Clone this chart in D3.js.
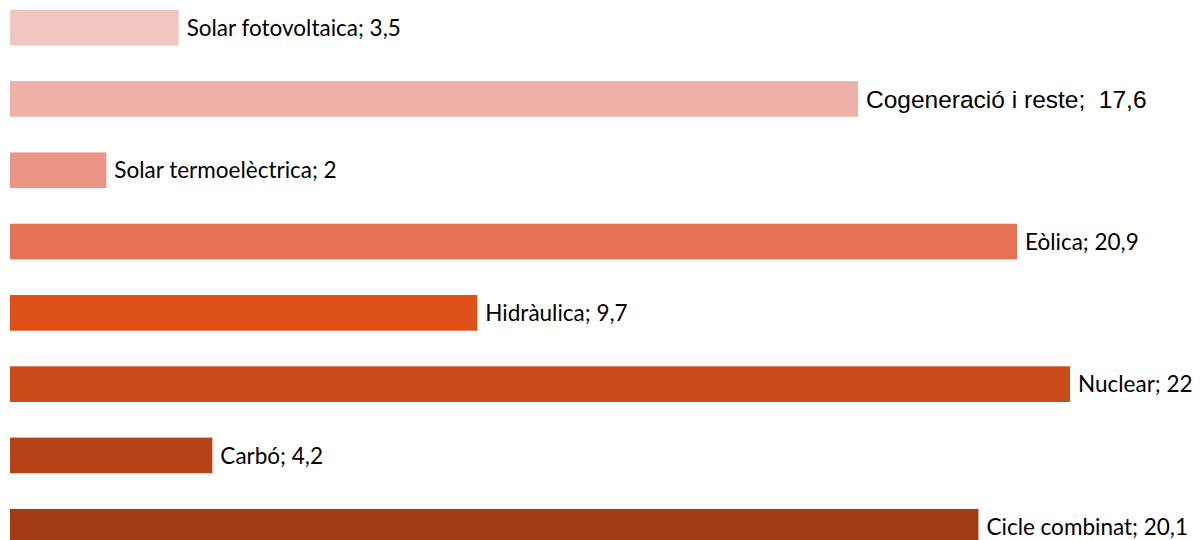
<!DOCTYPE html>
<html>
<head>
<meta charset="utf-8">
<script src="https://cdn.jsdelivr.net/npm/d3@7"></script>
<style>
  body { margin: 0; background: #fff; }
</style>
</head>
<body>
<div id="chart"></div>
<script>
// data
const categories = ["Solar fotovoltaica", "Cogeneració i reste", "Solar termoelèctrica", "Eòlica",
    "Hidràulica", "Nuclear", "Carbó", "Cicle combinat"];
const values = [3.5, 17.6, 2, 20.9, 9.7, 22, 4.2, 20.1];
const valueLabels = ["3,5", "17,6", "2", "20,9", "9,7", "22", "4,2", "20,1"];
const colors = ["#F2C6C0", "#EEB1A8", "#EA9585", "#E57154", "#DD5119", "#CA4B1A", "#B64317", "#A33B15"];

const width = 1200, height = 540;

const svg = d3.select('#chart').append('svg')
    .attr('width', width)
    .attr('height', height);

// scales
const xScale = d3.scaleLinear().domain([0, 22]).range([10, 1070]);
const yScale = d3.scaleBand()
    .domain(categories)
    .range([-8, 562.4])
    .paddingInner(0.5)
    .paddingOuter(0.25);

// bars
svg.selectAll('rect.bar')
    .data(categories)
    .enter().append('rect')
    .attr('class', 'bar')
    .attr('x', xScale(0))
    .attr('y', d => yScale(d))
    .attr('width', (d, i) => xScale(values[i]) - xScale(0))
    .attr('height', yScale.bandwidth())
    .attr('fill', (d, i) => colors[i]);

// labels (the Cogeneració one is in a different font, like the original)
svg.selectAll('text.label')
    .data(categories)
    .enter().append('text')
    .attr('class', 'label')
    .attr('x', (d, i) => xScale(values[i]) + 8)
    .attr('y', d => yScale(d) + yScale.bandwidth() / 2)
    .attr('dy', '0.36em')
    .attr('font-family', (d, i) => i === 1 ? 'Liberation Sans, Arial, sans-serif' : 'Lato, sans-serif')
    .attr('font-size', (d, i) => i === 1 ? '24.5px' : '22.5px')
    .attr('fill', '#000')
    .text((d, i) => i === 1 ? `${d}; \u00a0${valueLabels[i]}` : `${d}; ${valueLabels[i]}`);
</script>
</body>
</html>
